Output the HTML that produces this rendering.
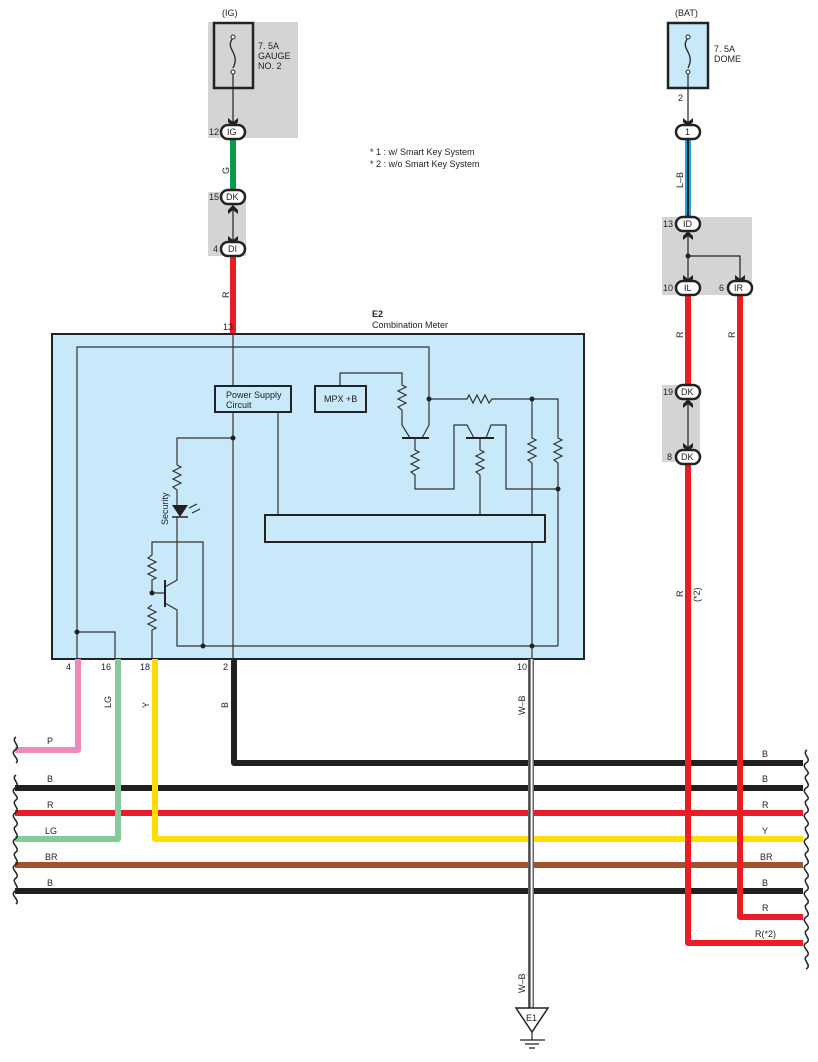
<!DOCTYPE html>
<html><head><meta charset="utf-8"><style>
html,body{margin:0;padding:0;background:#fff}
svg{display:block}
text{font-family:"Liberation Sans",sans-serif;fill:#222}
</style></head><body>
<svg width="818" height="1062" viewBox="0 0 818 1062" xmlns="http://www.w3.org/2000/svg">
<!-- IG fuse -->
<rect x="208" y="22" width="90" height="116" fill="#d3d4d6"/>
<rect x="214" y="23" width="39" height="65" fill="none" stroke="#222" stroke-width="2.5"/>
<text x="222" y="16" font-size="9">(IG)</text>
<text x="258" y="49" font-size="9">7. 5A</text>
<text x="258" y="59" font-size="9">GAUGE</text>
<text x="258" y="69" font-size="9">NO. 2</text>
<path d="M233 38 c-5 6 -2 10 0 14 c3 6 3 10 0 16" fill="none" stroke="#222" stroke-width="1.3"/>
<circle cx="233" cy="37" r="2" fill="#fff" stroke="#222"/><circle cx="233" cy="72" r="2" fill="#fff" stroke="#222"/>
<line x1="233" y1="74" x2="233" y2="124" stroke="#222" stroke-width="1.2"/>
<path d="M228 118 L233 122 L238 118 L238 122 L233 127 L228 122Z" fill="#222"/>
<!-- notes -->
<text x="370" y="155" font-size="9">* 1 : w/ Smart Key System</text>
<text x="370" y="167" font-size="9">* 2 : w/o Smart Key System</text>
<!-- green wire -->
<line x1="233" y1="138" x2="233" y2="192" stroke="#0a9b4a" stroke-width="6"/>
<text x="229" y="174" font-size="9" transform="rotate(-90 229 174)">G</text>
<rect x="208" y="192" width="38" height="64" fill="#d3d4d6"/>
<line x1="233" y1="204" x2="233" y2="243" stroke="#222" stroke-width="1.2"/>
<path d="M228 210 L233 205 L238 210 L238 214 L233 210 L228 214Z" fill="#222"/>
<path d="M228 236 L233 240 L238 236 L238 240 L233 245 L228 240Z" fill="#222"/>
<!-- red -->
<line x1="233" y1="256" x2="233" y2="334" stroke="#ec1c24" stroke-width="6"/>
<text x="229" y="298" font-size="9" transform="rotate(-90 229 298)">R</text>
<text x="223" y="330" font-size="9">13</text>
<text x="372" y="317" font-size="9" font-weight="bold">E2</text>
<text x="372" y="328" font-size="9">Combination Meter</text>
<!-- connectors -->
<g stroke="#222" stroke-width="2.5" fill="#fff">
<rect x="221" y="125" width="24" height="14" rx="7"/>
<rect x="221" y="190" width="24" height="14" rx="7"/>
<rect x="221" y="242" width="24" height="14" rx="7"/>
</g>
<text x="227" y="135" font-size="9">IG</text><text x="209" y="135" font-size="9">12</text>
<text x="226" y="200" font-size="9">DK</text><text x="209" y="200" font-size="9">15</text>
<text x="228" y="252" font-size="9">DI</text><text x="213" y="252" font-size="9">4</text>

<!-- meter -->
<rect x="52" y="334" width="532" height="325" fill="#c7e9f9" stroke="#222" stroke-width="2"/>
<g fill="none" stroke="#333" stroke-width="1.2">
<path d="M77 659 V347 H429 V425"/>
<path d="M233 334 V659"/>
<path d="M233 438 H177 V465"/>
<path d="M177 465 l4 2 l-8 4 l8 4 l-8 4 l8 4 l-8 4 l4 3 V505"/>
<path d="M177 517 V580 L165 587"/>
<path d="M165 603 L177 610 V646 H533"/>
<path d="M152 659 V630 l4 -2 l-8 -4 l8 -4 l-8 -4 l8 -4 l-8 -4 l4 -3 V605 M152 593 H165"/>
<path d="M152 593 V580 l4 -2 l-8 -4 l8 -4 l-8 -4 l8 -4 l-8 -4 l4 -3 V542 H203 V646"/>
<path d="M77 632 H115 V659"/>
<path d="M278 412 V515"/>
<path d="M340 386 V373 H402 V385 l4 2 l-8 4 l8 4 l-8 4 l8 4 l-8 4 l4 3 V425 L410 438"/>
<path d="M422 438 L429 425"/>
<path d="M415 438 V450 l4 2 l-8 4 l8 4 l-8 4 l8 4 l-8 4 l4 3 V489 H454 V425 H467 L474 438"/>
<path d="M486 438 L491 425 H506 V489 H558"/>
<path d="M480 438 V450 l4 2 l-8 4 l8 4 l-8 4 l8 4 l-8 4 l4 3 V515"/>
<path d="M429 399 H467 l2 -4 l4 8 l4 -8 l4 8 l4 -8 l4 8 l3 -4 H558 V438 l4 2 l-8 4 l8 4 l-8 4 l8 4 l-8 4 l4 3 V646"/>
<path d="M532 399 V438 l4 2 l-8 4 l8 4 l-8 4 l8 4 l-8 4 l4 3 V659"/>
<path d="M533 646 H558"/>
</g>
<g stroke="#222" stroke-width="2" fill="none">
<line x1="165" y1="580" x2="165" y2="607"/>
<line x1="402" y1="438" x2="429" y2="438"/>
<line x1="466" y1="438" x2="494" y2="438"/>
</g>
<path d="M172 505 H188 L180 517Z" fill="#222"/><line x1="172" y1="517" x2="188" y2="517" stroke="#222" stroke-width="1.5"/>
<path d="M189 508 l8 -4 M192 513 l8 -4" stroke="#222" stroke-width="1"/>
<text x="168" y="525" font-size="9" transform="rotate(-90 168 525)">Security</text>
<rect x="215" y="386" width="76" height="26" fill="#c7e9f9" stroke="#222" stroke-width="2"/>
<text x="226" y="398" font-size="9">Power Supply</text><text x="226" y="408" font-size="9">Circuit</text>
<rect x="315" y="386" width="51" height="26" fill="#c7e9f9" stroke="#222" stroke-width="2"/>
<text x="324" y="402" font-size="9">MPX +B</text>
<rect x="265" y="515" width="280" height="27" fill="#c7e9f9" stroke="#222" stroke-width="2"/>
<g fill="#222">
<circle cx="233" cy="438" r="2.5"/><circle cx="429" cy="399" r="2.5"/><circle cx="532" cy="399" r="2.5"/>
<circle cx="558" cy="489" r="2.5"/><circle cx="532" cy="646" r="2.5"/><circle cx="203" cy="646" r="2.5"/>
<circle cx="77" cy="632" r="2.5"/><circle cx="152" cy="593" r="2.5"/>
</g>
<text x="66" y="670" font-size="9">4</text><text x="101" y="670" font-size="9">16</text>
<text x="140" y="670" font-size="9">18</text><text x="223" y="670" font-size="9">2</text>
<text x="517" y="670" font-size="9">10</text>

<!-- harness wires -->
<g fill="none" stroke-width="6" stroke-linejoin="round">
<path d="M78 659 V750 H15" stroke="#f288b9"/>
<path d="M15 788 H803" stroke="#231f20"/>
<path d="M15 813 H803" stroke="#ec1c24"/>
<path d="M15 865 H803" stroke="#a0522d"/>
<path d="M15 891 H803" stroke="#231f20"/>
<path d="M118 659 V839 H15" stroke="#82cc9c"/>
<path d="M155 659 V839 H803" stroke="#ffde00"/>
<path d="M234 659 V763 H803" stroke="#231f20"/>
</g>
<text x="111" y="708" font-size="9" transform="rotate(-90 111 708)">LG</text>
<text x="149" y="708" font-size="9" transform="rotate(-90 149 708)">Y</text>
<text x="228" y="708" font-size="9" transform="rotate(-90 228 708)">B</text>
<g font-size="9">
<text x="47" y="744">P</text><text x="47" y="782">B</text><text x="47" y="808">R</text>
<text x="45" y="834">LG</text><text x="45" y="860">BR</text><text x="47" y="886">B</text>
<text x="762" y="757">B</text><text x="762" y="782">B</text><text x="762" y="808">R</text>
<text x="762" y="834">Y</text><text x="760" y="860">BR</text><text x="762" y="886">B</text>
<text x="762" y="911">R</text><text x="755" y="937">R(*2)</text>
</g>
<g fill="none" stroke="#222" stroke-width="1.5">
<path d="M16 737 c-6 4 6 9 -1 13 c-6 4 6 9 1 13"/>
<path d="M16 775 c-6 4 6 9 -1 13 c-6 4 6 9 1 12 c-6 4 6 9 -1 13 c-6 4 6 9 1 13 c-6 4 6 9 -1 13 c-6 4 6 9 1 13 c-6 4 6 9 -1 13 c-6 4 6 9 1 13 c-6 4 6 9 -1 13 c-6 4 6 9 1 13"/>
<path d="M807 750 c-6 4 6 9 -1 13 c-6 4 6 9 1 12 c-6 4 6 9 -1 13 c-6 4 6 9 1 12 c-6 4 6 9 -1 13 c-6 4 6 9 1 13 c-6 4 6 9 -1 13 c-6 4 6 9 1 13 c-6 4 6 9 -1 13 c-6 4 6 9 1 13 c-6 4 6 9 -1 13 c-6 4 6 9 1 13 c-6 4 6 9 -1 13 c-6 4 6 9 1 13 c-6 4 6 9 -1 13 c-6 4 6 9 1 13 c-6 4 6 9 -1 13"/>
</g>
<!-- W-B -->
<line x1="531" y1="659" x2="531" y2="1008" stroke="#666" stroke-width="6"/>
<line x1="531" y1="659" x2="531" y2="1008" stroke="#fff" stroke-width="3"/>
<line x1="530" y1="659" x2="530" y2="1008" stroke="#222" stroke-width="1"/>
<text x="525" y="715" font-size="9" transform="rotate(-90 525 715)">W–B</text>
<text x="525" y="993" font-size="9" transform="rotate(-90 525 993)">W–B</text>
<path d="M516 1008 H548 L532 1032Z" fill="#fff" stroke="#222" stroke-width="1.5"/>
<text x="526" y="1021" font-size="9">E1</text>
<path d="M532 1032 V1040 M520 1040 H545 M525 1044 H539 M529 1048 H535" stroke="#222" stroke-width="1.2"/>

<!-- BAT side -->
<rect x="668" y="23" width="40" height="65" fill="#c7e9f9" stroke="#222" stroke-width="2.5"/>
<text x="675" y="16" font-size="9">(BAT)</text>
<text x="714" y="52" font-size="9">7. 5A</text><text x="714" y="62" font-size="9">DOME</text>
<path d="M688 38 c-5 6 -2 10 0 14 c3 6 3 10 0 16" fill="none" stroke="#222" stroke-width="1.3"/>
<circle cx="688" cy="37" r="2" fill="#fff" stroke="#222"/><circle cx="688" cy="72" r="2" fill="#fff" stroke="#222"/>
<line x1="688" y1="74" x2="688" y2="124" stroke="#222" stroke-width="1.2"/>
<path d="M683 118 L688 122 L693 118 L693 122 L688 127 L683 122Z" fill="#222"/>
<text x="678" y="101" font-size="9">2</text>
<line x1="688" y1="138" x2="688" y2="218" stroke="#1ea0e0" stroke-width="6"/>
<line x1="688" y1="138" x2="688" y2="218" stroke="#222" stroke-width="2"/>
<text x="683" y="188" font-size="9" transform="rotate(-90 683 188)">L–B</text>
<rect x="662" y="217" width="90" height="78" fill="#d3d4d6"/>
<path d="M688 230 V282 M688 256 H740 V282" fill="none" stroke="#222" stroke-width="1.2"/>
<circle cx="688" cy="256" r="2.5" fill="#222"/>
<path d="M683 236 L688 231 L693 236 L693 240 L688 236 L683 240Z" fill="#222"/>
<path d="M683 275 L688 279 L693 275 L693 279 L688 284 L683 279Z" fill="#222"/>
<path d="M735 275 L740 279 L745 275 L745 279 L740 284 L735 279Z" fill="#222"/>
<rect x="662" y="385" width="38" height="77" fill="#d3d4d6"/>
<line x1="688" y1="398" x2="688" y2="450" stroke="#222" stroke-width="1.2"/>
<path d="M683 404 L688 399 L693 404 L693 408 L688 404 L683 408Z" fill="#222"/>
<path d="M683 443 L688 447 L693 443 L693 447 L688 452 L683 447Z" fill="#222"/>
<g fill="none" stroke="#ec1c24" stroke-width="6" stroke-linejoin="round">
<path d="M688 295 V385"/>
<path d="M688 462 V943 H803"/>
<path d="M740 295 V917 H803"/>
</g>
<text x="683" y="338" font-size="9" transform="rotate(-90 683 338)">R</text>
<text x="735" y="338" font-size="9" transform="rotate(-90 735 338)">R</text>
<text x="683" y="597" font-size="9" transform="rotate(-90 683 597)">R</text>
<text x="700" y="602" font-size="9" transform="rotate(-90 700 602)">(*2)</text>
<g stroke="#222" stroke-width="2.5" fill="#fff">
<rect x="676" y="125" width="24" height="14" rx="7"/>
<rect x="676" y="217" width="24" height="14" rx="7"/>
<rect x="676" y="281" width="24" height="14" rx="7"/>
<rect x="728" y="281" width="24" height="14" rx="7"/>
<rect x="676" y="385" width="24" height="14" rx="7"/>
<rect x="676" y="450" width="24" height="14" rx="7"/>
</g>
<g font-size="9">
<text x="685" y="135">1</text>
<text x="683" y="227">ID</text><text x="663" y="227">13</text>
<text x="684" y="291">IL</text><text x="663" y="291">10</text>
<text x="734" y="291">IR</text><text x="719" y="291">6</text>
<text x="681" y="395">DK</text><text x="663" y="395">19</text>
<text x="681" y="460">DK</text><text x="667" y="460">8</text>
</g>
</svg>
</body></html>
